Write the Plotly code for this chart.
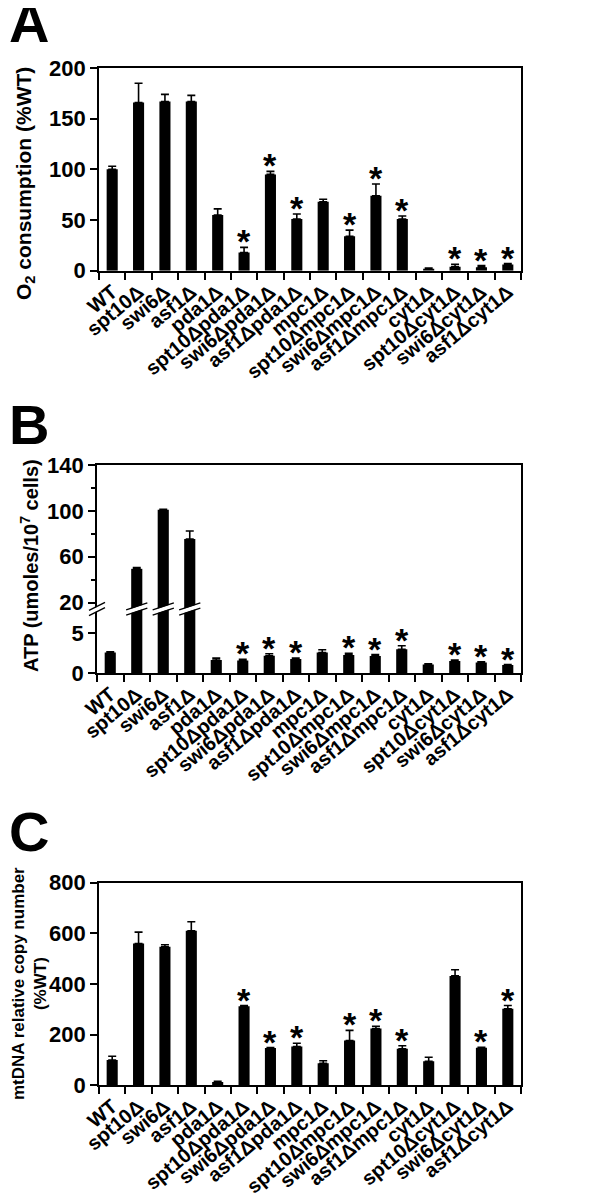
import plotly.graph_objects as go

# 菌株（カテゴリ）
strains = ["WT", "spt10Δ", "swi6Δ", "asf1Δ", "pda1Δ", "spt10Δpda1Δ", "swi6Δpda1Δ", "asf1Δpda1Δ",
           "mpc1Δ", "spt10Δmpc1Δ", "swi6Δmpc1Δ", "asf1Δmpc1Δ", "cyt1Δ", "spt10Δcyt1Δ", "swi6Δcyt1Δ", "asf1Δcyt1Δ"]

# A: O2 consumption (%WT)
o2_mean = [100, 166, 167, 167, 55, 18, 95, 51, 68, 34, 74, 51, 2, 4, 3.5, 6]
o2_err = [3, 19, 7, 6, 6, 5, 3, 5, 2.5, 6, 11.5, 3, 0.5, 2.3, 1.5, 1]
o2_sig = [0, 0, 0, 0, 0, 1, 1, 1, 0, 1, 1, 1, 0, 1, 1, 1]

# B: ATP (umoles/10^7 cells)
atp_mean = [2.6, 49.5, 101, 75.5, 1.65, 1.6, 2.2, 1.8, 2.6, 2.3, 2.15, 3.0, 1.1, 1.55, 1.35, 1.05]
atp_err = [0.1, 1.2, 0.5, 7, 0.25, 0.15, 0.25, 0.1, 0.35, 0.2, 0.2, 0.45, 0.1, 0.1, 0.1, 0.05]
atp_sig = [0, 0, 0, 0, 0, 1, 1, 1, 0, 1, 1, 1, 0, 1, 1, 1]

# C: mtDNA relative copy number (%WT)
mtdna_mean = [100, 560, 547, 610, 13, 312, 147, 153, 87, 177, 224, 144, 95, 432, 148, 302]
mtdna_err = [15, 45, 8, 36, 3, 3, 2, 13, 10, 40, 9, 12, 16, 24, 2, 13]
mtdna_sig = [0, 0, 0, 0, 0, 1, 1, 1, 0, 1, 1, 1, 0, 0, 1, 1]

# ページ本体の余白(8px)を差し引いたサイズ
OFF = 8
W, H = 600 - OFF, 1197 - OFF
FONT = "Liberation Sans"
PX = 1.0 / H


def py(p):
    """画面上のピクセル位置(上から) → paper座標"""
    return 1 - (p - OFF) / H


def pxx(p):
    """画面上のピクセル位置(左から) → paper座標"""
    return (p - OFF) / W


def bar(x, y, err, xa, ya):
    return go.Bar(
        x=x, y=y, xaxis=xa, yaxis=ya, width=0.42,
        marker=dict(color="black", line=dict(width=0)),
        error_y=dict(type="data", array=err, arrayminus=[0] * len(err), symmetric=False,
                     color="black", thickness=1.6, width=4),
        showlegend=False,
    )


fig = go.Figure()
fig.add_trace(bar(strains, o2_mean, o2_err, "x", "y"))
fig.add_trace(bar(strains, atp_mean, atp_err, "x2", "y2"))
fig.add_trace(bar(strains, atp_mean, atp_err, "x3", "y3"))
fig.add_trace(bar(strains, mtdna_mean, mtdna_err, "x4", "y4"))

tickfont = dict(family=FONT, size=22, color="black", weight="bold")
xlabfont = dict(family=FONT, size=20, color="black", weight="bold")

xcommon = dict(type="category", tickson="boundaries", ticks="outside", ticklen=7, tickwidth=1.5,
               tickcolor="black", showline=True, linewidth=1.6, linecolor="black",
               tickangle=-40, tickfont=xlabfont, showgrid=False, zeroline=False, automargin=False)
ycommon = dict(ticks="outside", ticklen=7, tickwidth=1.5, tickcolor="black", showline=True,
               linewidth=1.6, linecolor="black", tickfont=tickfont, showgrid=False,
               zeroline=False, mirror=True, automargin=False)

dom_a = [pxx(99), pxx(521)]
dom_b = [pxx(97), pxx(521)]
dom_c = [pxx(99), pxx(521)]
yb = py(609)  # B の軸の切れ目
low_top = 8.04

fig.update_layout(
    template="none",
    width=W, height=H,
    margin=dict(l=0, r=0, t=0, b=0, pad=0),
    plot_bgcolor="white", paper_bgcolor="white",
    xaxis=dict(xcommon, domain=dom_a, anchor="y", mirror=True),
    yaxis=dict(ycommon, domain=[py(270.7), py(68)], range=[0, 200], dtick=50, anchor="x"),
    xaxis2=dict(type="category", domain=dom_b, anchor="y2", matches="x3", side="top",
                showticklabels=False, ticks="", showline=True, linewidth=1.6, linecolor="black",
                showgrid=False, zeroline=False, automargin=False),
    yaxis2=dict(ycommon, domain=[yb, py(465)], range=[14.5, 140], tick0=20, dtick=40, anchor="x2",
                minor=dict(ticks="outside", ticklen=4, dtick=20, tick0=20, tickcolor="black")),
    xaxis3=dict(xcommon, domain=dom_b, anchor="y3"),
    yaxis3=dict(ycommon, domain=[py(673.3), yb], range=[0, low_top], dtick=5, anchor="x3"),
    xaxis4=dict(xcommon, domain=dom_c, anchor="y4", mirror=True),
    yaxis4=dict(ycommon, domain=[py(1085.3), py(882.7)], range=[0, 800], dtick=200, anchor="x4"),
)

annotations = []


# 有意差のアスタリスク
def stars(mean, err, sig, xa, ya):
    for s, m, e, g in zip(strains, mean, err, sig):
        if g:
            annotations.append(dict(x=s, y=m + e, xref=xa, yref=ya, text="*", showarrow=False,
                                    yanchor="bottom", yshift=-15,
                                    font=dict(family=FONT, size=34, color="black", weight="bold")))


stars(o2_mean, o2_err, o2_sig, "x", "y")
stars(atp_mean, atp_err, atp_sig, "x3", "y3")
stars(mtdna_mean, mtdna_err, mtdna_sig, "x4", "y4")

# パネル記号
for letter, ytop in [("A", -10), ("B", 392), ("C", 799)]:
    annotations.append(dict(x=pxx(8), y=py(ytop), xref="paper", yref="paper", text=letter,
                            showarrow=False, xanchor="left", yanchor="top", borderpad=0,
                            font=dict(family=FONT, size=56, color="black", weight="bold")))

# 軸タイトル
ytitle = dict(family=FONT, size=21, color="black", weight="bold")
annotations.append(dict(x=pxx(25), y=py(184), xref="paper", yref="paper", textangle=-90,
                        xanchor="center", yanchor="middle",
                        text="O<sub>2</sub> consumption (%WT)", showarrow=False, font=ytitle))
annotations.append(dict(x=pxx(29), y=py(566), xref="paper", yref="paper", textangle=-90,
                        xanchor="center", yanchor="middle",
                        text="ATP (umoles/10<sup>7</sup> cells)", showarrow=False,
                        font=dict(ytitle, size=20)))
annotations.append(dict(x=pxx(29), y=py(984), xref="paper", yref="paper", textangle=-90,
                        xanchor="center", yanchor="middle", borderpad=0,
                        text="mtDNA relative copy number<br>(%WT)", showarrow=False,
                        font=dict(family=FONT, size=17, color="black", weight="bold")))

fig.update_layout(annotations=annotations)

# B の切れ目マーク（バーと軸）
shapes = []
for i, m in enumerate(atp_mean):
    if m > low_top:
        for off, col, wd in [(0, "white", 4), (2.6, "black", 1.3), (-2.6, "black", 1.3)]:
            shapes.append(dict(type="line", xref="x3", yref="paper",
                               x0=i - 0.4, x1=i + 0.4,
                               y0=yb - 3.5 * PX + off * PX, y1=yb + 3.5 * PX + off * PX,
                               line=dict(color=col, width=wd)))
ax = dom_b[0]
for off, col, wd in [(0, "white", 4), (2.6, "black", 1.3), (-2.6, "black", 1.3)]:
    shapes.append(dict(type="line", xref="paper", yref="paper",
                       x0=ax - 8 / W, x1=ax + 8 / W,
                       y0=yb - 4 * PX + off * PX, y1=yb + 4 * PX + off * PX,
                       line=dict(color=col, width=wd)))
fig.update_layout(shapes=shapes)

fig.write_html("out.html")
